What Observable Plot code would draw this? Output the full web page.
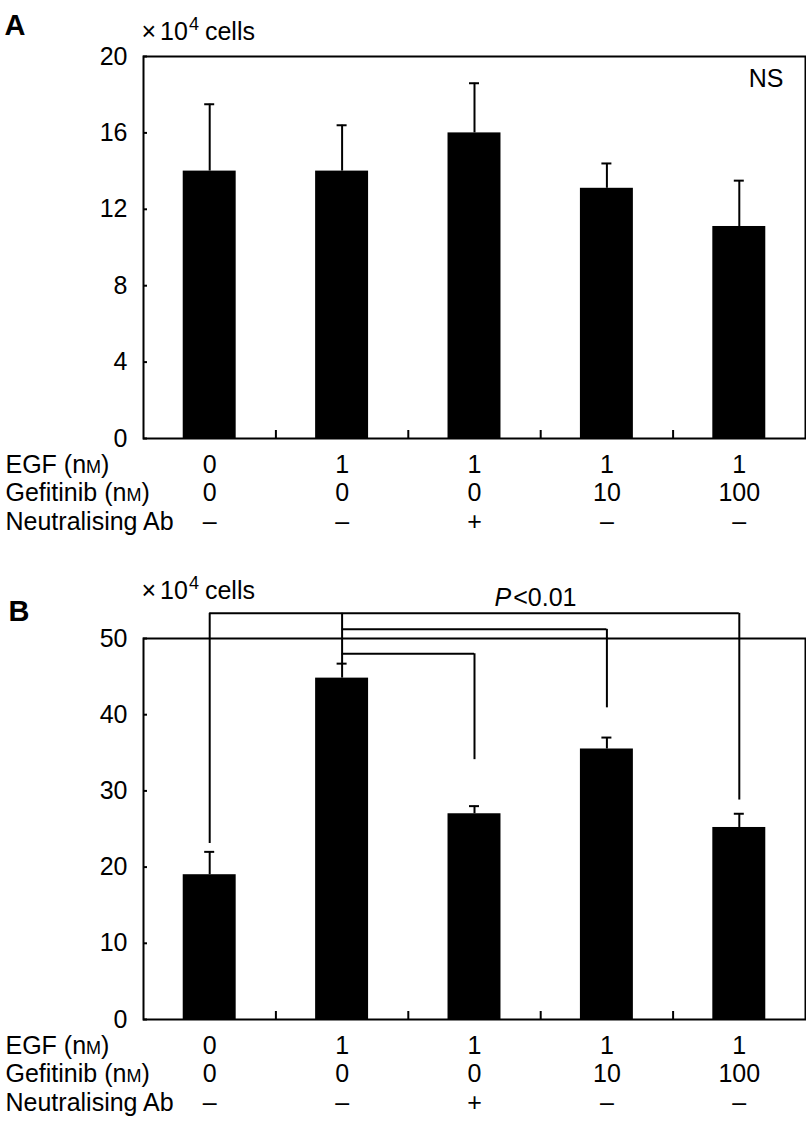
<!DOCTYPE html>
<html><head><meta charset="utf-8">
<script src="https://cdn.jsdelivr.net/npm/d3@7"></script>
<script src="https://cdn.jsdelivr.net/npm/@observablehq/plot@0.6"></script>
<style>
html,body{margin:0;padding:0;background:#fff;}
#chart svg{display:block;}
</style></head><body><div id="chart"></div>
<script>
// ---- data ----
const egfLabels = ["0", "1", "1", "1", "1"];
const gefitinibLabels = ["0", "0", "0", "10", "100"];
const antibodyLabels = ["–", "–", "+", "–", "–"];
const rowLabels = ["EGF (nM)", "Gefitinib (nM)", "Neutralising Ab"];
const unitLabel = "× 10⁴ cells";

const meanA = [14.0, 14.0, 16.0, 13.1, 11.1];
const errTopA = [17.5, 16.4, 18.6, 14.4, 13.5];
const yTicksA = [0, 4, 8, 12, 16, 20];

const meanB = [19.0, 44.8, 27.0, 35.5, 25.2];
const errTopB = [22.0, 46.7, 28.0, 37.0, 27.0];
const yTicksB = [0, 10, 20, 30, 40, 50];

// significance brackets (panel B), in data units
const bracketFrom = [0, 1, 1];
const bracketTo = [4, 3, 2];
const bracketLevel = [53.3, 51.2, 48.0];
const dropGroup = [0, 4, 3, 2, 1];
const dropTop = [53.3, 53.3, 51.2, 48.0, 53.3];
const dropEnd = [23.1, 28.8, 40.9, 34.1, 46.7];

const FONT = '"Liberation Sans", Arial, Helvetica, sans-serif';
const FS = 25;

function panel({letter, means, tops, yMax, yTicks, marginTop, height, marginBottom, letterDy, letterDx, unitDy, extra}) {
  const idx = d3.range(means.length);
  const rows = idx.map(i => ({i, mean: means[i], top: tops[i], egf: egfLabels[i], gef: gefitinibLabels[i], ab: antibodyLabels[i]}));
  const rowDy = [26, 54.5, 83];
  const T = {fontSize: FS, lineAnchor: "middle"};
  return Plot.plot({
    width: 806, height, marginTop, marginBottom, marginLeft: 143, marginRight: 1,
    style: {fontFamily: FONT, fontSize: FS + "px", color: "#000", background: "#fff", overflow: "visible"},
    x: {domain: [-0.5, idx.length - 0.5], axis: null},
    y: {domain: [0, yMax]},
    marks: [
      Plot.rectY(rows, {x1: d => d.i - 0.2, x2: d => d.i + 0.2, y1: 0, y2: "mean", fill: "#000"}),
      Plot.ruleX(rows, {x: "i", y1: "mean", y2: "top", stroke: "#000", strokeWidth: 2}),
      Plot.ruleY(rows, {x1: "i", x2: "i", y: "top", insetLeft: -5, insetRight: -5, stroke: "#000", strokeWidth: 2}),
      Plot.ruleX(idx.slice(1), {x: d => d - 0.5, y1: 0, y2: 0, insetTop: -8, stroke: "#000", strokeWidth: 2}),
      Plot.ruleY(yTicks, {y: d => d, x1: -0.5, x2: -0.5, insetRight: -4, stroke: "#000", strokeWidth: 2}),
      Plot.axisY({ticks: yTicks, tickSize: 0, tickPadding: 16, tickFormat: d => String(d), fontSize: FS, label: null}),
      Plot.frame({stroke: "#000", strokeWidth: 2}),
      Plot.text(rows, {x: "i", text: "egf", frameAnchor: "bottom", dy: rowDy[0], ...T}),
      Plot.text(rows, {x: "i", text: "gef", frameAnchor: "bottom", dy: rowDy[1], ...T}),
      Plot.text(rows, {x: "i", text: "ab", frameAnchor: "bottom", dy: rowDy[2], ...T}),
      ...rowLabels.map((lab, k) => Plot.text([lab], {text: d => d, frameAnchor: "bottom-left", textAnchor: "start", dx: -138, dy: rowDy[k], ...T})),
      Plot.text([letter], {text: d => d, frameAnchor: "top-left", textAnchor: "start", dx: letterDx, dy: letterDy, fontSize: 29, lineAnchor: "middle", fontWeight: "bold"}),
      Plot.text([unitLabel], {text: d => d, frameAnchor: "top-left", textAnchor: "start", dx: -2, dy: unitDy, ...T}),
      ...extra.map(f => f(T))
    ]
  });
}

const bracketRows = d3.range(bracketFrom.length).map(k => ({from: bracketFrom[k], to: bracketTo[k], level: bracketLevel[k]}));
const dropRows = d3.range(dropGroup.length).map(k => ({g: dropGroup[k], top: dropTop[k], end: dropEnd[k]}));

const svgA = panel({
  letter: "A", means: meanA, tops: errTopA, yMax: 20, yTicks: yTicksA,
  marginTop: 56, height: 545, marginBottom: 107, letterDx: -139, letterDy: -31, unitDy: -25,
  extra: [
    T => Plot.text(["NS"], {text: d => d, frameAnchor: "top-right", textAnchor: "end", dx: -22, dy: 22, ...T})
  ]
});

const svgB = panel({
  letter: "B", means: meanB, tops: errTopB, yMax: 50, yTicks: yTicksB,
  marginTop: 93, height: 579, marginBottom: 105, letterDx: -135, letterDy: -27, unitDy: -48,
  extra: [
    () => Plot.ruleY(bracketRows, {x1: "from", x2: "to", y: "level", stroke: "#000", strokeWidth: 2}),
    () => Plot.ruleX(dropRows, {x: "g", y1: "top", y2: "end", stroke: "#000", strokeWidth: 2}),
    T => Plot.text(["P<0.01"], {text: d => d, frameAnchor: "top", dx: 61, dy: -41, ...T})
  ]
});

const NS = "http://www.w3.org/2000/svg";
function tspan(txt, attrs) {
  const t = document.createElementNS(NS, "tspan");
  for (const k in attrs) t.setAttribute(k, attrs[k]);
  t.textContent = txt;
  return t;
}
function enrich(svg) {
  svg.querySelectorAll("text").forEach(t => {
    if (t.querySelector("tspan")) return;
    const s = t.textContent;
    if (s.includes("(nM)")) {
      const pre = s.slice(0, s.indexOf("(nM)"));
      t.textContent = "";
      t.appendChild(tspan(pre + "(n", {}));
      t.appendChild(tspan("M", {"font-size": 18}));
      t.appendChild(tspan(")", {}));
    } else if (s === unitLabel) {
      t.textContent = "";
      t.appendChild(tspan("×", {}));
      t.appendChild(tspan("10", {dx: 4}));
      t.appendChild(tspan("4", {"font-size": 18, dy: -10, dx: 1}));
      t.appendChild(tspan("cells", {dy: 10, dx: 6}));
    } else if (s === "P<0.01") {
      t.textContent = "";
      t.appendChild(tspan("P", {"font-style": "italic"}));
      t.appendChild(tspan("<0.01", {dx: 2}));
    }
  });
}
enrich(svgA); enrich(svgB);
document.getElementById("chart").append(svgA, svgB);
</script></body></html>
